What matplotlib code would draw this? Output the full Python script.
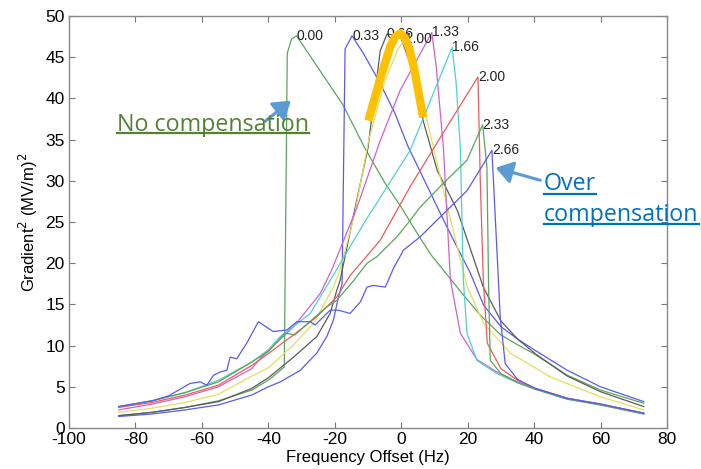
import matplotlib
matplotlib.use("Agg")
import matplotlib.pyplot as plt
from matplotlib.lines import Line2D
from matplotlib.patches import FancyArrowPatch

plt.rcParams["axes.unicode_minus"] = False

# ---------------- data ----------------
labels = ["0.00", "0.33", "0.66", "1.00", "1.33", "1.66", "2.00", "2.33", "2.66"]

f_000 = [-85, -75, -65, -55, -45, -40, -35.2, -34.3, -33, -31.5, -25, -17.5, -11, -5, 0, 5, 9, 13, 18, 24, 30, 35, 40, 50, 60, 73]
g_000 = [1.5, 1.9, 2.5, 3.3, 4.6, 5.8, 7.4, 45.5, 47.2, 47.6, 43.7, 39.2, 34.0, 29.8, 26.8, 23.5, 21.0, 19.0, 16.5, 13.6, 11.3, 10.1, 9.0, 6.4, 4.6, 3.0]

f_033 = [-85, -75, -65, -55, -45, -40, -36.4, -30.4, -25.4, -22.4, -20.4, -18.9, -17.8, -16.9, -14.8, -11.3, -6.3, -1.8, 2, 8, 14, 20.8, 24.8, 30, 35, 40.4, 50, 60, 73]
g_033 = [1.4, 1.7, 2.2, 2.8, 4.0, 5.0, 5.6, 7.0, 9.1, 11.1, 13.1, 15.9, 17.5, 46.0, 47.6, 45.4, 41.8, 38.1, 34.2, 29.2, 24.2, 18.8, 14.9, 12.3, 10.8, 9.4, 7.0, 5.0, 3.2]

f_066 = [-85, -75, -65, -55, -45, -40, -32.4, -25.4, -21.4, -19.4, -18.4, -14, -10, -6.3, -4.3, -0.3, 2.7, 6.6, 10.8, 16.9, 24.7, 30, 35, 40.4, 50, 60, 73]
g_066 = [1.5, 1.9, 2.5, 3.2, 4.8, 6.1, 8.6, 11.1, 13.9, 16.7, 17.9, 26.5, 34.0, 45.8, 47.8, 47.6, 44.2, 37.3, 31.3, 26.4, 17.1, 13.0, 10.8, 9.0, 6.3, 4.4, 2.6]

f_100 = [-85, -75, -65, -55, -45, -40, -32.4, -26.4, -20.4, -18.4, -14, -9.8, -5, -1, 1.2, 4, 7.8, 13.9, 19.9, 24.8, 32.8, 44.9, 59.9, 73]
g_100 = [1.9, 2.4, 3.1, 4.1, 6.3, 7.3, 10.1, 12.7, 17.1, 19.2, 26.0, 34.9, 42.0, 46.0, 47.2, 44.5, 37.3, 26.8, 17.1, 12.7, 9.1, 6.2, 3.8, 2.2]

f_133 = [-85, -75, -65, -55, -45, -42.5, -32.4, -24.4, -20.9, -13.3, -6.3, -0.3, 5.7, 9.2, 10.5, 12.7, 14.8, 17.8, 22.8, 28.8, 35, 40.4, 50, 60, 73]
g_133 = [2.2, 2.9, 3.8, 5.0, 7.2, 8.4, 12.3, 16.3, 19.2, 26.8, 34.9, 41.0, 45.4, 48.0, 44.0, 34.0, 18.0, 11.5, 8.3, 6.8, 5.6, 4.8, 3.6, 2.9, 1.8]

f_166 = [-85, -75, -65, -55, -45, -40, -36.4, -27.4, -21.4, -11.3, 2.7, 15.3, 16.5, 17.8, 18.7, 19.8, 22.8, 28.8, 35, 40.4, 50, 60, 73]
g_166 = [2.6, 3.3, 4.3, 5.8, 8.0, 9.5, 11.1, 13.9, 17.9, 24.8, 33.7, 46.2, 42.0, 34.0, 18.0, 11.5, 8.2, 6.6, 5.5, 4.7, 3.5, 2.8, 1.7]

f_200 = [-85, -75, -65, -55, -45, -42.5, -32.4, -25.4, -19.4, -15.4, -6.3, 2.7, 9.7, 16, 23.1, 23.8, 24.7, 25.9, 30, 35, 40.4, 50, 60, 73]
g_200 = [2.5, 3.1, 4.0, 5.2, 7.6, 8.3, 11.3, 13.5, 15.9, 18.5, 22.8, 29.3, 33.9, 38.0, 42.6, 30.0, 18.0, 10.3, 7.2, 5.8, 4.8, 3.6, 2.9, 1.8]

f_233 = [-85, -75, -65, -55, -45, -40, -35, -32, -26.4, -22.4, -19.4, -14.3, -10.3, -7.3, -4.3, -1.3, 2.7, 5.7, 12.7, 19.8, 24.5, 25.8, 26.3, 26.8, 30, 35, 40.4, 50, 60, 73]
g_233 = [2.6, 3.3, 4.3, 5.6, 8.0, 9.3, 11.5, 11.3, 13.3, 14.7, 15.5, 17.9, 20.0, 20.8, 22.0, 23.2, 25.2, 26.8, 29.7, 32.5, 36.8, 31.7, 17.1, 8.2, 6.6, 5.5, 4.7, 3.5, 2.8, 1.7]

f_266 = [-85, -75, -70, -63.6, -60.5, -58.5, -56.5, -54.5, -52.5, -51.5, -49.5, -46.5, -43, -38.5, -34.4, -31.4, -27.4, -25.9, -21.4, -18.9, -15.4, -12.3, -10.3, -8.3, -4.8, -2.3, 0.7, 5.7, 11.7, 19.8, 27.3, 28.8, 29.8, 31.3, 35, 40.4, 50, 60, 73]
g_266 = [2.6, 3.3, 3.9, 5.4, 5.6, 5.2, 6.4, 6.8, 7.0, 8.6, 8.4, 10.3, 12.9, 11.7, 11.9, 12.9, 12.9, 12.5, 14.3, 14.3, 13.9, 15.3, 17.1, 17.3, 17.1, 19.4, 21.6, 23.2, 25.6, 28.8, 33.7, 21.6, 13.5, 7.8, 5.9, 4.8, 3.6, 2.9, 1.8]

freqs = [f_000, f_033, f_066, f_100, f_133, f_166, f_200, f_233, f_266]
grads = [g_000, g_033, g_066, g_100, g_133, g_166, g_200, g_233, g_266]
colors = ["#5aa55a", "#5a5af0", "#5a5a5a", "#e0e060", "#d060d0", "#50d0d0", "#f05a5a", "#5aa55a", "#5a5af0"]

# orange hand-drawn annotation (data coordinates)
hat_x = [-9.9, -6.3, -3.3, -1.8, -0.3, 1.2, 2.4, 3.9, 6.6]
hat_y = [37.3, 42.4, 46.3, 47.5, 47.9, 47.3, 46.1, 43.6, 37.7]

xticks = list(range(-100, 81, 20))
yticks = list(range(0, 51, 5))

# ---------------- figure ----------------
W, H = 701, 469
fig = plt.figure(figsize=(W / 100, H / 100), dpi=100)
ax = fig.add_axes([69 / W, 1 - 428 / H, (667 - 69) / W, (428 - 16) / H])

for f, g, c in zip(freqs, grads, colors):
    ax.plot(f, g, color=c, lw=0.9)

for f, g, lab in zip(freqs, grads, labels):
    i = max(range(len(g)), key=lambda k: g[k])
    ax.text(f[i], g[i], lab, fontsize=10, family="Liberation Sans",
            ha="left", va="center", color="#222222")

ax.plot(hat_x, hat_y, color="#FFC000", lw=6, solid_capstyle="butt",
        solid_joinstyle="round", zorder=10)

ax.set_xlim(-100, 80)
ax.set_ylim(0, 50)
ax.set_xticks(xticks)
ax.set_yticks(yticks)
ax.tick_params(direction="in", top=True, right=True, length=4, width=0.8,
               color="#777777", labelsize=12.5, pad=3)
for lbl in ax.get_xticklabels() + ax.get_yticklabels():
    lbl.set_family("Liberation Sans")
for s in ax.spines.values():
    s.set_color("#888888")
    s.set_linewidth(1.0)

ax.set_xlabel("Frequency Offset (Hz)", fontsize=12, family="Liberation Sans", labelpad=2)
ax.set_ylabel("Gradient$^2$ (MV/m)$^2$", fontsize=12, family="Liberation Sans", labelpad=4)

# ---------------- callouts ----------------
def px(x, y):
    return (x / W, 1 - y / H)

# font size chosen so that "No compensation" spans ~192 px as in the picture
probe = fig.text(0, 0, "No compensation", fontsize=15, family="Open Sans")
fig.canvas.draw()
w15 = probe.get_window_extent().width
probe.remove()
cs = 15 * 192 / w15

def underlined(x, ybase, yline, s, color, size):
    t = fig.text(*px(x, ybase), s, color=color, fontsize=size, family="Open Sans",
                 ha="left", va="baseline")
    fig.canvas.draw()
    bb = t.get_window_extent()
    fig.add_artist(Line2D([bb.x0 / W, bb.x1 / W], [1 - yline / H, 1 - yline / H],
                          color=color, lw=1.6, transform=fig.transFigure))
    return t

underlined(117, 131, 133.5, "No compensation", "#548235", cs)
underlined(544, 190, 193.5, "Over", "#0070C0", cs)
underlined(544, 221, 224.5, "compensation", "#0070C0", cs)

for (x0, y0, x1, y1) in [(263, 123, 293, 99), (543, 181, 493, 167)]:
    a = FancyArrowPatch(px(x0, y0), px(x1, y1), transform=fig.transFigure,
                        arrowstyle="-|>,head_length=6,head_width=4",
                        color="#5B9BD5", lw=2.2, mutation_scale=1.7)
    fig.add_artist(a)

fig.savefig("out.png", dpi=100)
